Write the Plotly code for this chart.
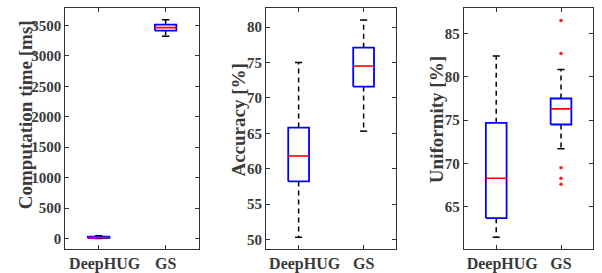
import plotly.graph_objects as go

groups = ["DeepHUG", "GS"]
group_labels = ["\u00a0\u00a0\u00a0DeepHUG", "GS"]

time_lower = [0, 3323]
time_q1 = [5, 3415]
time_median = [15, 3463]
time_q3 = [30, 3511]
time_upper = [45, 3592]
time_outliers = [[], []]

acc_lower = [50.3, 65.3]
acc_q1 = [58.2, 71.6]
acc_median = [61.8, 74.5]
acc_q3 = [65.8, 77.1]
acc_upper = [75.0, 81.0]
acc_outliers = [[], []]

unif_lower = [61.5, 71.7]
unif_q1 = [63.7, 74.5]
unif_median = [68.3, 76.3]
unif_q3 = [74.7, 77.5]
unif_upper = [82.4, 80.85]
unif_outliers = [[], [86.5, 82.7, 69.5, 68.3, 67.6]]

time_ticks = [0, 500, 1000, 1500, 2000, 2500, 3000, 3500]
acc_ticks = [50, 55, 60, 65, 70, 75, 80]
unif_ticks = [65, 70, 75, 80, 85]

panels = [
    dict(lo=time_lower, q1=time_q1, med=time_median, q3=time_q3, hi=time_upper,
         out=time_outliers, ticks=time_ticks, rng=[-172, 3785],
         title="Computation time [ms]", dom=[0.0947, 0.3206], tx=0.027, ty=0.555),
    dict(lo=acc_lower, q1=acc_q1, med=acc_median, q3=acc_q3, hi=acc_upper,
         out=acc_outliers, ticks=acc_ticks, rng=[48.65, 82.7],
         title="Accuracy [%]", dom=[0.4336, 0.6528], tx=0.387, ty=0.535),
    dict(lo=unif_lower, q1=unif_q1, med=unif_median, q3=unif_q3, hi=unif_upper,
         out=unif_outliers, ticks=unif_ticks, rng=[60.14, 87.94],
         title="Uniformity [%]", dom=[0.767, 0.9855], tx=0.721, ty=0.537),
]

BOX_HW = 0.16
CAP_HW = 0.055
FONT = "Times New Roman, Liberation Serif, serif"
TXT = "#3a3a3a"

fig = go.Figure()
annotations = []
for i, p in enumerate(panels):
    ax = "" if i == 0 else str(i + 1)
    xr, yr = "x" + ax, "y" + ax
    wx, wy, cx, cy, bx, by, mx, my, ox, oy = [], [], [], [], [], [], [], [], [], []
    for g in range(len(groups)):
        pos = g + 1
        wx += [pos, pos, None, pos, pos, None]
        wy += [p["q3"][g], p["hi"][g], None, p["q1"][g], p["lo"][g], None]
        cx += [pos - CAP_HW, pos + CAP_HW, None, pos - CAP_HW, pos + CAP_HW, None]
        cy += [p["hi"][g], p["hi"][g], None, p["lo"][g], p["lo"][g], None]
        bx += [pos - BOX_HW, pos + BOX_HW, pos + BOX_HW, pos - BOX_HW, pos - BOX_HW, None]
        by += [p["q1"][g], p["q1"][g], p["q3"][g], p["q3"][g], p["q1"][g], None]
        mx += [pos - BOX_HW, pos + BOX_HW, None]
        my += [p["med"][g], p["med"][g], None]
        ox += [pos] * len(p["out"][g])
        oy += p["out"][g]
    fig.add_trace(go.Scatter(x=wx, y=wy, mode="lines", xaxis=xr, yaxis=yr,
                             line=dict(color="black", width=1.5, dash="5px,4px"), showlegend=False))
    fig.add_trace(go.Scatter(x=cx, y=cy, mode="lines", xaxis=xr, yaxis=yr,
                             line=dict(color="black", width=1.5), showlegend=False))
    fig.add_trace(go.Scatter(x=bx, y=by, mode="lines", xaxis=xr, yaxis=yr,
                             line=dict(color="#0000ff", width=1.8), showlegend=False))
    fig.add_trace(go.Scatter(x=mx, y=my, mode="lines", xaxis=xr, yaxis=yr,
                             line=dict(color="#ff0000", width=1.6), showlegend=False))
    if ox:
        fig.add_trace(go.Scatter(x=ox, y=oy, mode="markers", xaxis=xr, yaxis=yr,
                                 marker=dict(color="#ff2020", size=3.5), showlegend=False))
    common = dict(showline=True, linecolor="#333333", linewidth=1, mirror="allticks",
                  ticks="inside", ticklen=4, tickcolor="#333333", showgrid=False,
                  zeroline=False)
    fig.layout["xaxis" + ax] = dict(domain=p["dom"], range=[0.5, 2.5], tickvals=[1, 2],
                                    ticktext=group_labels, anchor=yr,
                                    tickfont=dict(size=16), **common)
    fig.layout["yaxis" + ax] = dict(domain=[0, 1], range=p["rng"], tickvals=p["ticks"],
                                    anchor=xr, ticklabelstandoff=0,
                                    tickfont=dict(size=15), **common)
    annotations.append(dict(text=p["title"], x=p["tx"], y=p["ty"], xref="paper", yref="paper",
                            xanchor="center", yanchor="middle", textangle=-90, showarrow=False,
                            font=dict(size=19)))

fig.update_layout(width=602, height=273, margin=dict(l=0, r=0, t=8, b=19),
                  font=dict(family=FONT, color=TXT, weight="bold"),
                  paper_bgcolor="white", plot_bgcolor="white", annotations=annotations)
fig.write_html("out.html")
